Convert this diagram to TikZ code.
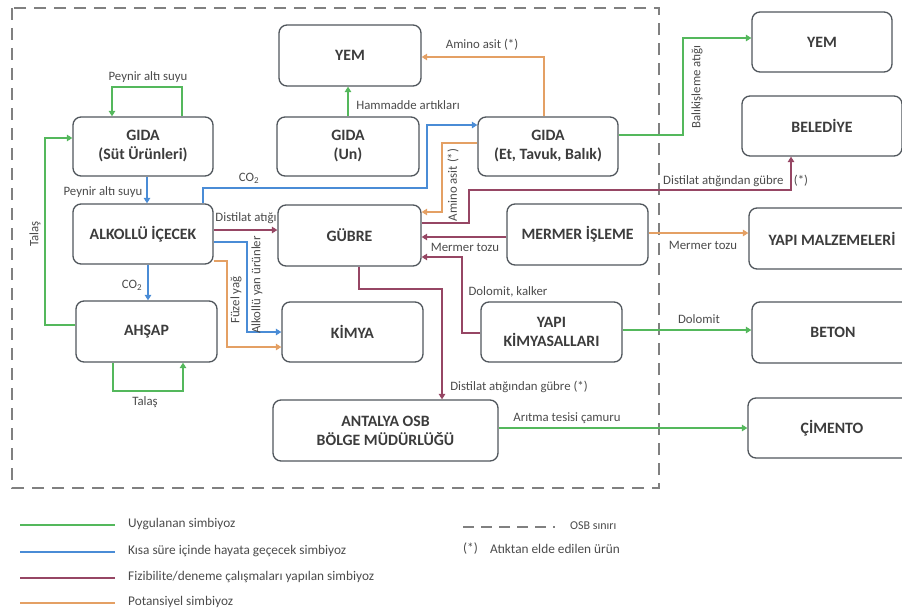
\documentclass[tikz,border=0pt]{standalone}
\usepackage{fontspec}
\setmainfont{Carlito}
\usetikzlibrary{arrows.meta}
\definecolor{cgreen}{RGB}{84,184,92}
\definecolor{cblue}{RGB}{74,140,214}
\definecolor{cmaroon}{RGB}{150,70,100}
\definecolor{corange}{RGB}{228,160,100}
\definecolor{boxc}{RGB}{80,86,92}
\definecolor{txtc}{RGB}{60,60,60}
\definecolor{lblc}{RGB}{75,75,75}
\definecolor{osbc}{RGB}{128,128,128}
\begin{document}
\begin{tikzpicture}[x=1pt,y=-1pt,
  box/.style={draw=boxc, line width=1.3pt, rounded corners=8pt, align=center, text=txtc,
    font=\fontsize{15.8}{19}\selectfont\bfseries, inner sep=0pt},
  lbl/.style={text=lblc, font=\fontsize{12.8}{14}\selectfont, inner sep=1pt},
  leg/.style={text=lblc, font=\fontsize{13.3}{15}\selectfont, inner sep=0pt, anchor=west},
  con/.style={line width=2.2pt, -{Triangle[length=5.5pt,width=6.5pt]}},
  gr/.style={con, draw=cgreen},
  bl/.style={con, draw=cblue},
  ma/.style={con, draw=cmaroon},
  orr/.style={con, draw=corange},
  legline/.style={line width=2.2pt}]
\useasboundingbox (0,0) rectangle (902,610);
% OSB border
\draw[osbc, line width=2pt, dash pattern=on 12pt off 8pt] (12,8) rectangle (659,488);
% boxes
\node[box, minimum width=140pt, minimum height=59pt] (gs) at (143,146.5) {GIDA\\(Süt Ürünleri)};
\node[box, minimum width=140pt, minimum height=60pt] (ai) at (143,234) {ALKOLLÜ İÇECEK};
\node[box, minimum width=141pt, minimum height=61pt] (ah) at (146.5,331.5) {AHŞAP};
\node[box, minimum width=142pt, minimum height=61pt] (yem) at (350,55.5) {YEM};
\node[box, minimum width=142pt, minimum height=59pt] (gu) at (348,146.5) {GIDA\\(Un)};
\node[box, minimum width=140pt, minimum height=59pt] (ge) at (548,146.5) {GIDA\\(Et, Tavuk, Balık)};
\node[box, minimum width=143pt, minimum height=61pt] (gb) at (349.5,235.5) {GÜBRE};
\node[box, minimum width=141pt, minimum height=61pt] (mi) at (577.5,234.5) {MERMER İŞLEME};
\node[box, minimum width=141pt, minimum height=60pt] (ki) at (352.5,332) {KİMYA};
\node[box, minimum width=141pt, minimum height=60pt] (yk) at (551.5,332) {YAPI\\KİMYASALLARI};
\node[box, minimum width=225pt, minimum height=61pt] (ao) at (385.5,430.5) {ANTALYA OSB\\BÖLGE MÜDÜRLÜĞÜ};
\node[box, minimum width=140pt, minimum height=60pt] (eyem) at (822,42) {YEM};
\node[box, minimum width=160pt, minimum height=60pt] (bel) at (822,126) {BELEDİYE};
\node[box, minimum width=166pt, minimum height=61pt] (yapm) at (832,238.5) {YAPI MALZEMELERİ};
\node[box, minimum width=162pt, minimum height=61pt] (bet) at (833,332.5) {BETON};
\node[box, minimum width=168pt, minimum height=60pt] (cim) at (832,428) {ÇİMENTO};
% connectors
\draw[gr] (182,0 |- gs.north) -- (182,87) -- (112,87) -- (112,0 |- gs.north);
\draw[bl] (147,0 |- gs.south) -- (147,0 |- ai.north);
\draw[gr] (ah.west |- 0,325) -- (45,325) -- (45,138) -- (gs.west |- 0,138);
\draw[bl] (148,0 |- ai.south) -- (148,0 |- ah.north);
\draw[gr] (113,0 |- ah.south) -- (113,391) -- (183,391) -- (183,0 |- ah.south);
\draw[bl] (203,0 |- ai.north) -- (203,188) -- (427,188) -- (427,125) -- (ge.west |- 0,125);
\draw[gr] (348,0 |- gu.north) -- (348,0 |- yem.south);
\draw[orr] (544,0 |- ge.north) -- (544,57) -- (yem.east |- 0,57);
\draw[orr] (ge.west |- 0,143) -- (442,143) -- (442,212) -- (gb.east |- 0,212);
\draw[ma] (ai.east |- 0,230) -- (gb.west |- 0,230);
\draw[ma] (gb.east |- 0,223) -- (469,223) -- (469,190) -- (791,190) -- (791,0 |- bel.south);
\draw[ma] (mi.west |- 0,237) -- (gb.east |- 0,237);
\draw[ma] (yk.west |- 0,333) -- (462,333) -- (462,257) -- (gb.east |- 0,257);
\draw[ma] (359,0 |- gb.south) -- (359,289) -- (442,289) -- (442,0 |- ao.north);
\draw[bl] (ai.east |- 0,242) -- (247,242) -- (247,332) -- (ki.west |- 0,332);
\draw[orr] (ai.east |- 0,261) -- (227,261) -- (227,347) -- (ki.west |- 0,347);
\draw[gr] (ge.east |- 0,135) -- (683,135) -- (683,38) -- (eyem.west |- 0,38);
\draw[orr] (mi.east |- 0,233) -- (yapm.west |- 0,233);
\draw[gr] (yk.east |- 0,330) -- (bet.west |- 0,330);
\draw[gr] (ao.east |- 0,428) -- (cim.west |- 0,428);
% labels
\node[lbl] (l1) at (148,77) {Peynir altı suyu};
\node[lbl] (l2) at (103,192) {Peynir altı suyu};
\node[lbl, rotate=90] (l3) at (35,234) {Talaş};
\node[lbl] (l4) at (132,285) {CO\textsubscript{2}};
\node[lbl] (l5) at (145,402) {Talaş};
\node[lbl] (l6) at (249,178) {CO\textsubscript{2}};
\node[lbl] (l7) at (408,105) {Hammadde artıkları};
\node[lbl] (l8) at (482,45) {Amino asit (*)};
\node[lbl, rotate=90] (l9) at (453,185) {Amino asit (*)};
\node[lbl] (l10) at (246,218) {Distilat atığı};
\node[lbl, anchor=west] (l11) at (662,181) {Distilat atığından gübre};
\node[lbl] (l11b) at (801,181) {(*)};
\node[lbl] (l12) at (465,247) {Mermer tozu};
\node[lbl] (l13) at (508,292) {Dolomit, kalker};
\node[lbl] (l14) at (519,387) {Distilat atığından gübre (*)};
\node[lbl, rotate=90] (l15) at (257,285) {Alkollü yan ürünler};
\node[lbl, rotate=90] (l16) at (236,300) {Füzel yağ};
\node[lbl, rotate=90] (l17) at (697,87) {Balıkişleme atığı};
\node[lbl] (l18) at (703,245) {Mermer tozu};
\node[lbl] (l19) at (699,319) {Dolomit};
\node[lbl] (l20) at (567,418) {Arıtma tesisi çamuru};
% legend
\coordinate (g1a) at (20,525); \coordinate (g1b) at (115,525);
\coordinate (g2a) at (20,552); \coordinate (g2b) at (115,552);
\coordinate (g3a) at (20,578); \coordinate (g3b) at (115,578);
\coordinate (g4a) at (20,603); \coordinate (g4b) at (115,603);
\draw[legline, cgreen] (g1a) -- (g1b);
\draw[legline, cblue] (g2a) -- (g2b);
\draw[legline, cmaroon] (g3a) -- (g3b);
\draw[legline, corange] (g4a) -- (g4b);
\node[leg] (t1) at (128,524) {Uygulanan simbiyoz};
\node[leg] (t2) at (128,551) {Kısa süre içinde hayata geçecek simbiyoz};
\node[leg] (t3) at (128,577) {Fizibilite/deneme çalışmaları yapılan simbiyoz};
\node[leg] (t4) at (128,602) {Potansiyel simbiyoz};
\coordinate (o1) at (463,527); \coordinate (o2) at (560,527);
\draw[osbc, line width=2pt, dash pattern=on 11pt off 7pt on 11pt off 7pt on 11pt off 7pt on 11pt off 7pt on 11pt off 7pt on 2pt off 20pt] (o1) -- (o2);
\node[leg, font=\fontsize{12}{14}\selectfont] (t5) at (570,526) {OSB sınırı};
\node[leg] (t6) at (463,549) {(*)};
\node[leg] (t7) at (490,549) {Atıktan elde edilen ürün};
\end{tikzpicture}
\end{document}
